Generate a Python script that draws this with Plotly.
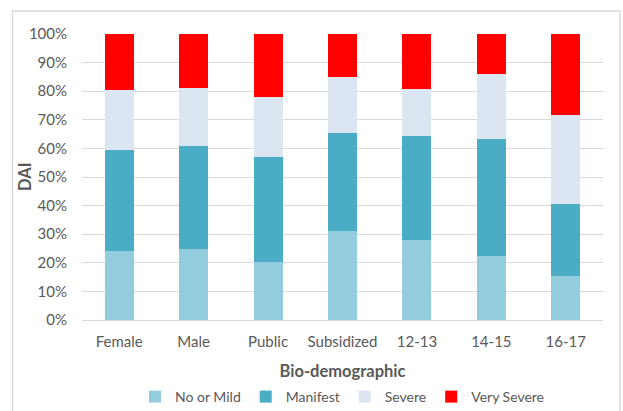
import plotly.graph_objects as go

categories = ["Female", "Male", "Public", "Subsidized", "12-13", "14-15", "16-17"]

# Share (%) of each DAI level within each group
no_or_mild = [24.1, 24.7, 20.2, 31.0, 28.0, 22.5, 15.3]
manifest = [35.4, 36.0, 36.8, 34.5, 36.3, 40.8, 25.3]
severe = [20.8, 20.3, 20.9, 19.5, 16.5, 22.6, 31.2]
very_severe = [19.7, 19.0, 22.1, 15.0, 19.2, 14.1, 28.2]

series = [
    ("No or Mild", no_or_mild, "#93CDDD"),
    ("Manifest", manifest, "#4BACC6"),
    ("Severe", severe, "#DCE6F2"),
    ("Very Severe", very_severe, "#FF0000"),
]

y_ticks = list(range(0, 101, 10))
y_tick_text = [f"{v}%" for v in y_ticks]

FONT = "Lato"
TEXT = "#595959"

fig = go.Figure()
for name, vals, color in series:
    fig.add_trace(go.Bar(
        x=categories, y=vals, name=name,
        marker=dict(color=color, line=dict(width=0)),
        width=0.39,
    ))

W, H = 623, 411
L, R, T, B = 82, 20, 34, 91
pw, ph = W - L - R, H - T - B


def px_x(x):
    return (x - L) / pw


def px_y(y):
    return (H - B - y) / ph


fig.update_layout(
    width=W, height=H,
    margin=dict(l=L, r=R, t=T, b=B, autoexpand=False),
    barmode="stack",
    plot_bgcolor="white", paper_bgcolor="white",
    font=dict(family=FONT, size=15, color=TEXT),
    xaxis=dict(
        automargin=False,
        showgrid=False, showline=False, ticks="",
        ticklabelstandoff=11,
        tickfont=dict(size=15, color=TEXT),
        title=dict(text="<b>Bio-demographic</b>", font=dict(size=16.5, color=TEXT), standoff=18),
    ),
    yaxis=dict(
        automargin=False,
        range=[0, 100],
        tickvals=y_ticks, ticktext=y_tick_text,
        showgrid=True, gridcolor="#D9D9D9", gridwidth=1,
        zeroline=True, zerolinecolor="#D9D9D9", zerolinewidth=1,
        ticks="", ticklabelstandoff=14,
        tickfont=dict(size=15, color=TEXT),
    ),
    legend=dict(
        orientation="h", yref="container", x=0.5, xanchor="center",
        y=1 - 397 / H, yanchor="middle",
        font=dict(size=14, color=TEXT), itemwidth=30, traceorder="normal",
        bgcolor="rgba(0,0,0,0)",
    ),
    annotations=[dict(
        text="<b>DAI</b>", xref="paper", yref="paper",
        x=px_x(25), y=0.5, xanchor="center", yanchor="middle",
        textangle=-90, showarrow=False, font=dict(size=16.5, color=TEXT),
    )],
    shapes=[dict(
        type="rect", xref="paper", yref="paper",
        x0=px_x(12.5), x1=px_x(620), y0=px_y(430), y1=px_y(11),
        line=dict(color="#D9D9D9", width=1.5), fillcolor="rgba(0,0,0,0)", layer="below",
    )],
)

fig.write_html("out.html")
